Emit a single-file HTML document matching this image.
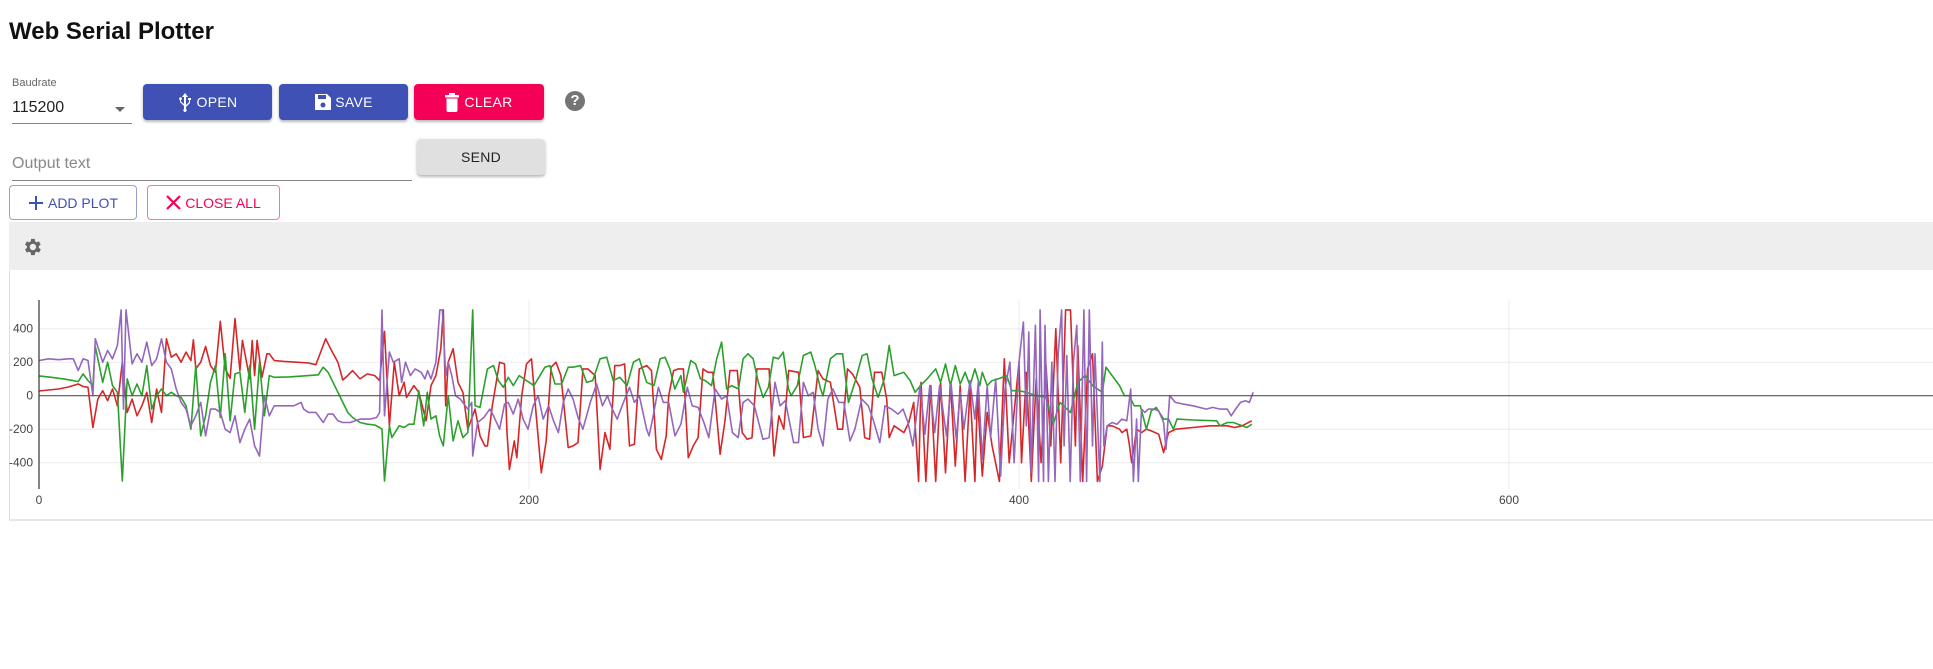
<!DOCTYPE html>
<html><head><meta charset="utf-8">
<style>
html,body{margin:0;padding:0;background:#fff;width:1933px;height:669px;overflow:hidden;font-family:"Liberation Sans",Arial,sans-serif;}
.abs{position:absolute;box-sizing:border-box;}
.btn{position:absolute;box-sizing:border-box;border-radius:4px;color:#fff;font-size:14px;display:flex;align-items:center;justify-content:center;letter-spacing:0.3px;box-shadow:0 2px 2px rgba(0,0,0,.2),0 1px 5px rgba(0,0,0,.12);}
.obtn{position:absolute;box-sizing:border-box;border-radius:4px;font-size:14px;display:flex;align-items:center;justify-content:center;background:#fff;}
</style></head><body>
<div class="abs" style="left:9px;top:18px;font-size:24px;font-weight:bold;color:#111;">Web Serial Plotter</div>

<div class="abs" style="left:12px;top:77px;font-size:11px;color:#666;">Baudrate</div>
<div class="abs" style="left:12px;top:96px;width:120px;height:28px;border-bottom:1px solid #888;font-size:16px;color:#222;line-height:24px;">115200
<div class="abs" style="left:103px;top:11px;width:0;height:0;border-left:5px solid transparent;border-right:5px solid transparent;border-top:5px solid #666;"></div></div>

<div class="btn" style="left:143px;top:84px;width:129px;height:36px;background:#3f51b5;">
<svg width="14" height="20" viewBox="0 0 14 20" style="margin-right:5px"><path d="M7 1 L10 5 H8 V13 L11 10 V8 H10 V6 H13 V8 H12 V11 L8 15 V17 A1.6 1.6 0 1 1 6 17 V14 L2 10 V8 A1.4 1.4 0 1 1 3 8 V9.5 L6 12 V5 H4 Z" fill="#fff"/></svg>OPEN</div>
<div class="btn" style="left:279px;top:84px;width:129px;height:36px;background:#3f51b5;">
<svg width="18" height="18" viewBox="0 0 18 18" style="margin-right:3px"><path d="M1 1 H13 L17 5 V17 H1 Z" fill="#fff"/><rect x="4" y="2" width="8" height="4" fill="#3f51b5"/><circle cx="9" cy="12" r="2.5" fill="#3f51b5"/></svg>SAVE</div>
<div class="btn" style="left:414px;top:84px;width:130px;height:36px;background:#f50057;">
<svg width="14" height="19" viewBox="0 0 14 19" style="margin-right:5px"><rect x="0" y="2" width="14" height="2.5" fill="#fff"/><rect x="4" y="0" width="6" height="3" fill="#fff"/><path d="M1.5 5.5 H12.5 V17 Q12.5 19 10.5 19 H3.5 Q1.5 19 1.5 17 Z" fill="#fff"/></svg>CLEAR</div>
<div class="abs" style="left:565px;top:91px;width:20px;height:20px;border-radius:50%;background:#757575;color:#fff;font-size:15px;font-weight:bold;text-align:center;line-height:20px;">?</div>

<div class="abs" style="left:12px;top:150px;width:400px;height:31px;border-bottom:1px solid #888;font-size:16px;color:#888;line-height:28px;">Output text</div>
<div class="btn" style="left:417px;top:139px;width:128px;height:36px;background:#e0e0e0;color:#222;">SEND</div>

<div class="obtn" style="left:9px;top:185px;width:128px;height:35px;border:1px solid rgba(63,81,181,.55);color:#3f51b5;">
<svg width="16" height="16" viewBox="0 0 16 16" style="margin-right:4px"><path d="M7 1h2v6h6v2H9v6H7V9H1V7h6z" fill="#3f51b5"/></svg>ADD PLOT</div>
<div class="obtn" style="left:147px;top:185px;width:133px;height:35px;border:1px solid rgba(245,0,87,.55);color:#f50057;">
<svg width="15" height="15" viewBox="0 0 15 15" style="margin-right:4px"><path d="M1 1 L14 14 M14 1 L1 14" stroke="#f50057" stroke-width="2.2"/></svg>CLOSE ALL</div>

<div class="abs" style="left:9px;top:222px;width:1924px;height:48px;background:#eeeeee;"></div>
<svg class="abs" style="left:21px;top:236px" width="22" height="22" viewBox="0 0 24 24"><path fill="#666" d="M19.4 13a7.5 7.5 0 0 0 0-2l2.1-1.6-2-3.5-2.5 1a7 7 0 0 0-1.7-1L15 3.2h-4l-.4 2.7a7 7 0 0 0-1.7 1l-2.5-1-2 3.5L6.5 11a7.5 7.5 0 0 0 0 2l-2.1 1.6 2 3.5 2.5-1a7 7 0 0 0 1.7 1l.4 2.7h4l.4-2.7a7 7 0 0 0 1.7-1l2.5 1 2-3.5zM13 15.5a3.5 3.5 0 1 1 0-7 3.5 3.5 0 0 1 0 7z"/></svg>
<div class="abs" style="left:9px;top:270px;width:1px;height:251px;background:#ddd;"></div>
<div class="abs" style="left:9px;top:519px;width:1924px;height:2px;background:#e6e6e6;"></div>

<svg id="chart" class="abs" style="left:0;top:0" width="1933" height="669"></svg>

<script>
const xTicks=[0,200,400,600];
const yTicks=[-400,-200,0,200,400];
const redPts=[[0,28],[4,34],[8,40],[12,52],[16,70],[18,55],[20,50],[22,-190],[24,-20],[26,30],[28,-30],[30,40],[32,-60],[34,200],[36,-100],[38,-20],[40,-120],[42,-60],[44,20],[46,-160],[48,40],[50,-100],[52,340],[54,230],[56,250],[58,200],[60,260],[62,210],[63,334],[64,160],[66,200],[68,294],[70,180],[72,140],[74,444],[76,160],[78,104],[80,460],[82,150],[83,330],[86,100],[87,330],[88,120],[89,330],[91,110],[93,250],[94,250],[96,210],[100,205],[105,200],[110,195],[113,185],[116,300],[117,340],[119,280],[122,200],[124,94],[126,120],[128,150],[131,100],[134,130],[137,120],[139,90],[141,384],[143,-180],[145,200],[147,0],[149,80],[150,-10],[153,60],[155,20],[158,-150],[160,60],[162,120],[164,280],[165,512],[166,-60],[167,200],[169,280],[171,80],[173,20],[175,-200],[178,-80],[180,-240],[182,-300],[183,-300],[185,-60],[188,200],[190,190],[191,-220],[192,-440],[194,-270],[195,-370],[197,0],[199,190],[201,220],[203,-130],[205,-460],[207,-270],[209,170],[211,200],[213,120],[216,-310],[218,-300],[220,-280],[222,160],[224,160],[227,120],[229,-440],[231,-220],[233,-320],[235,180],[237,180],[239,190],[241,-300],[243,-290],[245,160],[248,180],[250,150],[252,-320],[254,-380],[256,-240],[257,0],[259,150],[261,160],[263,160],[265,-370],[267,-300],[269,-250],[271,160],[273,140],[275,140],[278,-350],[280,-150],[282,150],[285,150],[287,-220],[289,-260],[291,-250],[293,160],[296,160],[298,160],[300,-360],[302,-120],[304,-200],[306,150],[310,140],[312,-250],[315,-240],[318,150],[320,100],[323,80],[326,-200],[328,-200],[330,160],[332,130],[335,50],[337,-250],[339,-260],[341,140],[344,140],[346,-20],[347,-250],[349,-180],[353,-220],[355,-160],[357,-40],[359,-512],[360,80],[362,-512],[364,60],[366,-512],[368,80],[370,-460],[372,80],[374,-420],[376,60],[378,-512],[380,40],[382,-512],[383,0],[385,-480],[387,-100],[389,-300],[392,-512],[394,220],[396,-400],[400,200],[401,-400],[403,140],[405,-512],[407,100],[409,-400],[411,180],[413,-300],[415,400],[417,-400],[419,512],[421,512],[423,-300],[424,300],[426,-512],[428,160],[430,250],[432,-512],[434,-420],[436,-180],[438,-180],[441,-200],[442,-220],[444,-200],[445,-290],[446,-400],[448,-200],[450,-220],[452,-200],[454,-210],[457,-230],[459,-340],[461,-220],[464,-200],[471,-190],[478,-180],[485,-180],[488,-190],[491,-180],[495,-150]];
const greenPts=[[0,118],[5,110],[10,100],[14,90],[16,84],[18,130],[20,90],[22,60],[23,294],[26,80],[28,200],[30,60],[32,20],[34,-510],[36,100],[38,0],[40,70],[42,0],[44,180],[46,-80],[48,0],[50,40],[52,0],[54,20],[56,0],[58,-10],[60,-60],[62,-200],[64,180],[66,-240],[68,-120],[70,80],[72,180],[74,-130],[76,250],[78,-150],[80,130],[82,140],[84,-100],[86,180],[88,-200],[90,200],[92,-120],[94,120],[96,110],[102,112],[108,118],[114,125],[116,170],[118,140],[120,80],[122,20],[124,-40],[126,-100],[128,-130],[131,-160],[134,-170],[137,-175],[139,-190],[140,-200],[141,-510],[143,-180],[144,-250],[147,-180],[149,-190],[151,-170],[153,-170],[155,30],[157,-180],[158.5,20],[160,-140],[162,-120],[163.5,-240],[165,-300],[167,0],[169,-270],[171,-150],[173,-250],[175,-220],[177,512],[178,-60],[180,-70],[183,160],[185.5,180],[187.5,90],[189.5,50],[191.5,110],[193.6,60],[196,120],[199,90],[202,60],[204.5,120],[206.5,170],[208.5,180],[210.6,70],[213.3,70],[216,170],[218,170],[221,180],[223.5,80],[226,90],[229,220],[231.7,230],[234.4,90],[237,110],[240,60],[242.6,200],[245,220],[248,80],[251,60],[253.5,220],[255.5,230],[257.5,160],[259.5,40],[262,120],[263,20],[266,210],[268,190],[270,100],[272,90],[274.5,60],[276.6,220],[278.6,320],[280.7,40],[282.7,60],[285.5,40],[287.4,220],[289.4,250],[291.5,220],[293.6,80],[295.6,-10],[297.7,50],[299.7,230],[301.8,220],[303.8,260],[305.9,40],[307,0],[309.5,60],[312,240],[315,260],[316.7,180],[319,40],[320,0],[323,220],[325.5,250],[328,250],[330.4,-40],[333,80],[336,240],[338,250],[340,100],[342.5,-10],[345,100],[347,300],[349,120],[353,140],[355.6,90],[357.6,20],[359.8,60],[362.5,100],[366,160],[368,80],[370,190],[372,60],[374,180],[376,70],[378,140],[380,60],[382,160],[384,60],[385,140],[387,60],[389,90],[391.5,100],[395,120],[397,30],[400,30],[403,20],[407,0],[411,-10],[414,-170],[416.7,-40],[421,-100],[424,80],[427,120],[430,60],[434,20],[435.5,170],[438,120],[441,60],[443,0],[445,0],[447,-60],[449.5,-60],[452,-200],[454,-90],[456,-70],[459,-140],[461,-140],[463,-200],[464.5,-140],[471,-145],[480.7,-150],[482,-180],[485,-160],[487.5,-160],[493,-190],[495,-170]];
const purplePts=[[0,210],[4,220],[8,215],[12,220],[14,220],[16,150],[18,220],[20,210],[22,0],[23,340],[26,200],[28,270],[30,220],[32,300],[33.5,512],[34.5,-80],[35.5,512],[38,190],[40,250],[42,200],[44,320],[46,180],[48,220],[50,340],[52,200],[54,160],[56,40],[58,-40],[60,-80],[62,-180],[64,-120],[66,-40],[68,-240],[70,-80],[72,-80],[74,-100],[76,-200],[78,-220],[80,-120],[82,-280],[84,-200],[86,-140],[88,-300],[90,-360],[92,0],[94,-120],[96,-60],[100,-60],[104,-60],[107,-40],[108,-80],[110,-100],[113,-100],[116,-160],[118,-110],[120,-110],[122,-150],[124,-160],[127,-160],[131,-140],[135,-140],[137.8,-130],[139,-100],[140,512],[141,-120],[143,260],[144.6,200],[147,220],[148,80],[149.6,200],[151.6,120],[153.5,160],[156,140],[157.5,100],[158.6,150],[160,100],[162,200],[163.6,512],[164.6,512],[166,120],[167,200],[168.5,120],[170,0],[172,-20],[175,-80],[176.6,-40],[177,-360],[179,-160],[181.6,-130],[184,-80],[185.5,-120],[188,-200],[190,-50],[191.5,-40],[193.6,-110],[195.6,-20],[197.6,-140],[199.6,-200],[201.7,-60],[203.7,0],[205.8,-140],[208,-60],[210,-150],[212,-220],[214,-40],[216,40],[218,-20],[220,-130],[222,-200],[225,-40],[227.6,70],[230,-60],[232,0],[234,-80],[236,-140],[238,-60],[241,50],[243,-40],[245,0],[248,-200],[249,-240],[250.7,-120],[252.8,50],[254.8,-40],[257,-40],[259.6,-240],[262,-170],[264.6,50],[266.6,-60],[269,-70],[271.4,-160],[273.4,-250],[276,40],[278.6,-20],[280.7,0],[283,-220],[285.4,-250],[287.4,-40],[289.4,-20],[292,-60],[295.5,-260],[298,-250],[300.4,80],[302.5,-60],[304.6,-30],[308,-280],[310,-280],[312,80],[314,0],[316,20],[318,-200],[320,-300],[322,-20],[324,40],[326.5,-40],[328.5,-40],[331,-270],[333,-200],[335.8,-20],[338.5,-60],[340.6,-150],[343.2,-280],[345.3,-60],[348,-80],[350.6,-110],[352.7,-80],[354.7,-160],[356.7,-300],[359.6,60],[361.6,-230],[363.6,60],[365.6,-220],[367.6,60],[370.4,-240],[372.3,70],[374.4,-260],[376,20],[377.5,-200],[380,90],[382,-140],[383.4,80],[385,-380],[387,60],[388.4,-250],[390.5,100],[392.5,-480],[394.3,40],[396.3,200],[398,-400],[400,200],[401.8,440],[403,-180],[404,380],[404.9,-460],[406.7,420],[408,-512],[408.6,512],[410,-512],[410.6,420],[412,-512],[413.4,200],[414.7,-512],[416,250],[417.4,512],[418.4,-300],[419.5,240],[420.9,-512],[422.2,200],[423.6,420],[425,-512],[426.5,512],[427.6,-512],[428.7,512],[430,-300],[431,250],[433,-512],[434,320],[434.6,-300],[436,-180],[438,-160],[440,-170],[442,-140],[444,-150],[445.6,40],[446.7,-512],[448,-140],[448.7,-512],[450,-80],[451.4,-100],[452.8,-80],[454.9,-80],[457,-90],[459,-160],[460,-320],[461.5,0],[463.8,-40],[467,-50],[471,-60],[476.5,-80],[479,-70],[482,-80],[485,-80],[486.6,-120],[488.4,-80],[490.4,-40],[492.4,-30],[494,-40],[495.6,20]];

const NS='http://www.w3.org/2000/svg';
const svg=document.getElementById('chart');
const X0=39, XS=2.45, Y0=395.7, YS=0.1675, TOP=300, BOT=489, RIGHT=1933;
function xScale(v){return X0+XS*v;}
function yScale(v){return Y0-YS*v;}
function mk(tag,attrs){const e=document.createElementNS(NS,tag);for(const k in attrs)e.setAttribute(k,attrs[k]);svg.appendChild(e);return e;}

const defs=mk('defs',{});
const cp=document.createElementNS(NS,'clipPath');cp.setAttribute('id','plotclip');
const cr=document.createElementNS(NS,'rect');cr.setAttribute('x',X0);cr.setAttribute('y',TOP);cr.setAttribute('width',RIGHT-X0);cr.setAttribute('height',BOT-TOP);
cp.appendChild(cr);defs.appendChild(cp);

yTicks.forEach(t=>{
  if(t!==0){
    const g=mk('line',{x1:X0,x2:RIGHT,y1:yScale(t),y2:yScale(t),stroke:'#ebebeb','stroke-width':1});
    
    
  }
  const tx=mk('text',{x:X0-6,y:yScale(t)+4,'text-anchor':'end','font-size':'12','fill':'#444','font-family':'Liberation Sans, sans-serif'});
  tx.textContent=t;
  
  
});
xTicks.forEach(t=>{
  if(t!==0){
    const g=mk('line',{x1:xScale(t),x2:xScale(t),y1:TOP,y2:BOT,stroke:'#ebebeb','stroke-width':1});
    
    
  }
  const tx=mk('text',{x:xScale(t),y:BOT+15,'text-anchor':'middle','font-size':'12','fill':'#444','font-family':'Liberation Sans, sans-serif'});
  tx.textContent=t;
  
  
});

const series=[['series-red',redPts,'#d62728'],['series-green',greenPts,'#2ca02c'],['series-purple',purplePts,'#9467bd']];
series.forEach(s=>{
  const d=s[1].map((p,i)=>(i?'L':'M')+xScale(p[0]).toFixed(1)+' '+yScale(p[1]).toFixed(1)).join(' ');
  const path=mk('path',{d:d,fill:'none',stroke:s[2],'stroke-width':1.6,'stroke-linejoin':'round','clip-path':'url(#plotclip)'});
  
  
});

const zl=mk('line',{x1:X0,x2:RIGHT,y1:yScale(0),y2:yScale(0),stroke:'#555','stroke-width':1.2});


const ya=mk('line',{x1:X0,x2:X0,y1:TOP,y2:BOT,stroke:'#333','stroke-width':1.2});


</script>
</body></html>
